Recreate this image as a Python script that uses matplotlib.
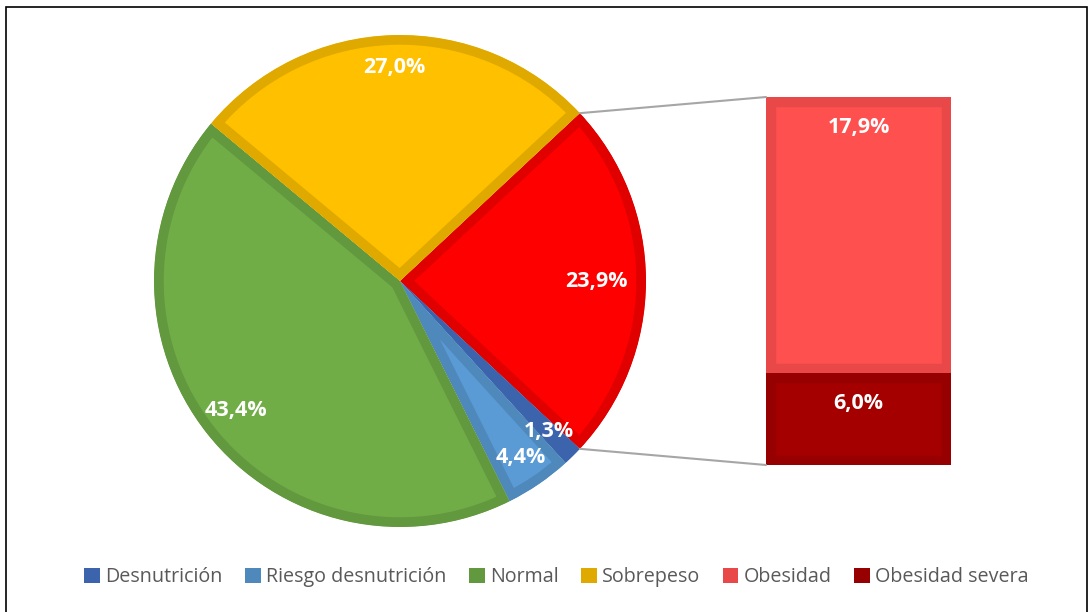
# -*- coding: utf-8 -*-
"""Bar of pie: nutritional status"""

import numpy as np
import matplotlib.pyplot as plt
from matplotlib.patches import Patch, Rectangle, ConnectionPatch

# %% data
# -------

pie_labels = ['Obesidad total', 'Desnutrición', 'Riesgo desnutrición', 'Normal', 'Sobrepeso']
pie_values = [23.9, 1.3, 4.4, 43.4, 27.0]
pie_fill = ['#FF0000', '#4472C4', '#5B9BD5', '#70AD47', '#FFC000']
pie_edge = ['#E00000', '#3C64AD', '#4F88BB', '#62983E', '#E0A900']

bar_labels = ['Obesidad severa', 'Obesidad']
bar_values = [6.0, 17.9]
bar_fill = ['#A50000', '#FF5050']
bar_edge = ['#960000', '#E84848']

legend_labels = ['Desnutrición', 'Riesgo desnutrición', 'Normal', 'Sobrepeso',
                 'Obesidad', 'Obesidad severa']
legend_colors = ['#3C64AD', '#4F88BB', '#62983E', '#E0A900', '#E84848', '#960000']

label_dist = [0.80, 0.86, 0.87, 0.85, 0.87]


def pct(v):
    return f'{v:.1f}%'.replace('.', ',')


# %% figure
# ---------

plt.rcParams['font.family'] = ['Open Sans', 'DejaVu Sans']

W, H = 1091, 612
fig = plt.figure(figsize=(W / 100, H / 100), dpi=100)

# pie axes: centre (400, 281), radius 246 px
ax = fig.add_axes([154 / W, (H - 527) / H, 492 / W, 492 / H])
start = 360 * pie_values[0] / 100 / 2
wedges, _ = ax.pie(pie_values, colors=pie_fill, startangle=start,
                   counterclock=False, radius=1)
for w, ec in zip(wedges, pie_edge):
    w.set_edgecolor(ec)
    w.set_linewidth(14)
    w.set_clip_on(True)
    w.set_clip_path(w)
ax.set_xlim(-1, 1)
ax.set_ylim(-1, 1)
ax.set_aspect('equal')
ax.axis('off')

for w, v, d in zip(wedges, pie_values, label_dist):
    ang = np.deg2rad((w.theta1 + w.theta2) / 2)
    ax.text(d * np.cos(ang), d * np.sin(ang), pct(v), ha='center', va='center',
            color='white', fontsize=15.5, fontweight='bold')

# bar axes
bx = fig.add_axes([766 / W, (H - 465) / H, 185 / W, 368 / H])
bottom = 0
for v, fc, ec in zip(bar_values, bar_fill, bar_edge):
    b = bx.bar(0, v, bottom=bottom, width=1, color=fc, edgecolor=ec,
               linewidth=14)[0]
    b.set_clip_path(b)
    bx.annotate(pct(v), (0, bottom + v), xytext=(0, -22),
                textcoords='offset points', ha='center', va='center',
                color='white', fontsize=15.5, fontweight='bold')
    bottom += v
bx.set_xlim(-0.5, 0.5)
bx.set_ylim(0, sum(bar_values))
bx.axis('off')

# connector lines
w0 = wedges[0]
for th, yb in [(w0.theta2, sum(bar_values)), (w0.theta1, 0)]:
    t = np.deg2rad(th)
    con = ConnectionPatch(xyA=(np.cos(t), np.sin(t)), coordsA=ax.transData,
                          xyB=(-0.5, yb), coordsB=bx.transData,
                          color='#A6A6A6', linewidth=1.5)
    fig.add_artist(con)

# legend
handles = [Patch(facecolor=c, edgecolor='none') for c in legend_colors]
leg = fig.legend(handles, legend_labels, loc='center', ncol=6,
                 bbox_to_anchor=(0.51, 1 - 577 / H), frameon=False,
                 fontsize=14.2, handlelength=0.8, handleheight=0.8,
                 handletextpad=0.25, columnspacing=1.15)
for t in leg.get_texts():
    t.set_color('#595959')

# chart border
fig.add_artist(Rectangle((5.5 / W, -0.05), 1081 / W, 1.05 - 6.5 / H,
                         transform=fig.transFigure, fill=False,
                         edgecolor='black', linewidth=1.2))

plt.savefig('out.png', dpi=100)
